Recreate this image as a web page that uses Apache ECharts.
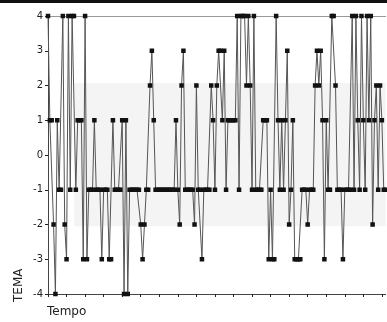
<!DOCTYPE html>
<html><head><meta charset="utf-8">
<script src="https://cdn.jsdelivr.net/npm/echarts@6/dist/echarts.min.js"></script>
<style>html,body{margin:0;padding:0;background:#fff}#c{width:387px;height:322px}</style>
</head><body><div id="c"></div>
<script>
// TEMA values over time
const tema = [
  4, 1, 1, -2, -4, 1, -1, -1, 4, -2,
  -3, 4, -1, 4, 4, -1, 1, 1, 1, -3,
  4, -3, -1, -1, -1, 1, -1, -1, -1, -3,
  -1, -1, -1, -3, -3, 1, -1, -1, -1, -1,
  1, -4, 1, -4, -1, -1, -1, -1, -1, -1,
  -2, -3, -2, -1, -1, 2, 3, 1, -1, -1,
  -1, -1, -1, -1, -1, -1, -1, -1, -1, 1,
  -1, -2, 2, 3, -1, -1, -1, -1, -1, -2,
  2, -1, -1, -3, -1, -1, -1, -1, 2, 1,
  -1, 2, 3, 3, 1, 3, -1, 1, 1, 1,
  1, 1, 4, -1, 4, 4, 4, 2, 4, 2,
  -1, 4, -1, -1, -1, -1, 1, 1, 1, -3,
  -1, -3, -3, 4, 1, -1, 1, -1, 1, 3,
  -2, -1, 1, -3, -3, -3, -3, -1, -1, -1,
  -2, -1, -1, -1, 2, 3, 2, 3, 1, -3,
  1, -1, -1, 4, 4, 2, -1, -1, -1, -3,
  -1, -1, -1, -1, 4, -1, 4, 1, -1, 4,
  1, -1, 4, 1, 4, -2, 1, 2, -1, 2,
  1, -1, -1
];
const categories = tema.map((_, i) => String(i));
const yMin = -4, yMax = 4, yStep = 1;
const bandStartCat = '14';
const bandEndCat = String(tema.length - 1);
const bandTop = 2.07, bandBottom = -2.05;
const xTickEvery = 10;

const chart = echarts.init(document.getElementById('c'), null, {renderer: 'canvas'});
const font = 'DejaVu Sans, Verdana, sans-serif';
chart.setOption({
  animation: false,
  backgroundColor: '#fff',
  grid: {left: 48, right: 1.4, top: 16, bottom: 28, containLabel: false},
  xAxis: [{
    type: 'category', data: categories, boundaryGap: false, position: 'bottom',
    axisLine: {show: true, onZero: false, lineStyle: {color: '#444', width: 1}},
    axisTick: {show: true, interval: xTickEvery - 1, length: 3, lineStyle: {color: '#222'}},
    axisLabel: {show: false}, splitLine: {show: false}
  }, {
    type: 'category', data: categories, boundaryGap: false, position: 'top',
    axisLine: {show: true, onZero: false, lineStyle: {color: '#999', width: 1}},
    axisTick: {show: false}, axisLabel: {show: false}, splitLine: {show: false}
  }],
  yAxis: {
    type: 'value', min: yMin, max: yMax, interval: yStep,
    axisLine: {show: true, lineStyle: {color: '#444', width: 1}},
    axisTick: {show: true, length: 3, lineStyle: {color: '#222'}},
    axisLabel: {color: '#222', fontSize: 10, fontFamily: font, margin: 5},
    splitLine: {show: false}
  },
  graphic: [
    {type: 'rect', left: 0, top: 0, shape: {width: 387, height: 3}, style: {fill: '#111'}},
    {type: 'text', left: 47, top: 306, style: {text: 'Tempo', font: '12px ' + font, fill: '#222'}},
    {type: 'text', x: 13, y: 302, rotation: Math.PI / 2, style: {text: 'TEMA', font: '12px ' + font, fill: '#222'}}
  ],
  series: [{
    type: 'line', data: tema, xAxisIndex: 0,
    symbol: 'rect', symbolSize: 4.5, showAllSymbol: true,
    lineStyle: {color: '#555', width: 1},
    itemStyle: {color: '#111'},
    markArea: {
      silent: true,
      itemStyle: {color: '#f4f4f4'},
      data: [[{coord: [bandStartCat, bandTop]}, {coord: [bandEndCat, bandBottom]}]]
    }
  }]
});
</script>
</body></html>
